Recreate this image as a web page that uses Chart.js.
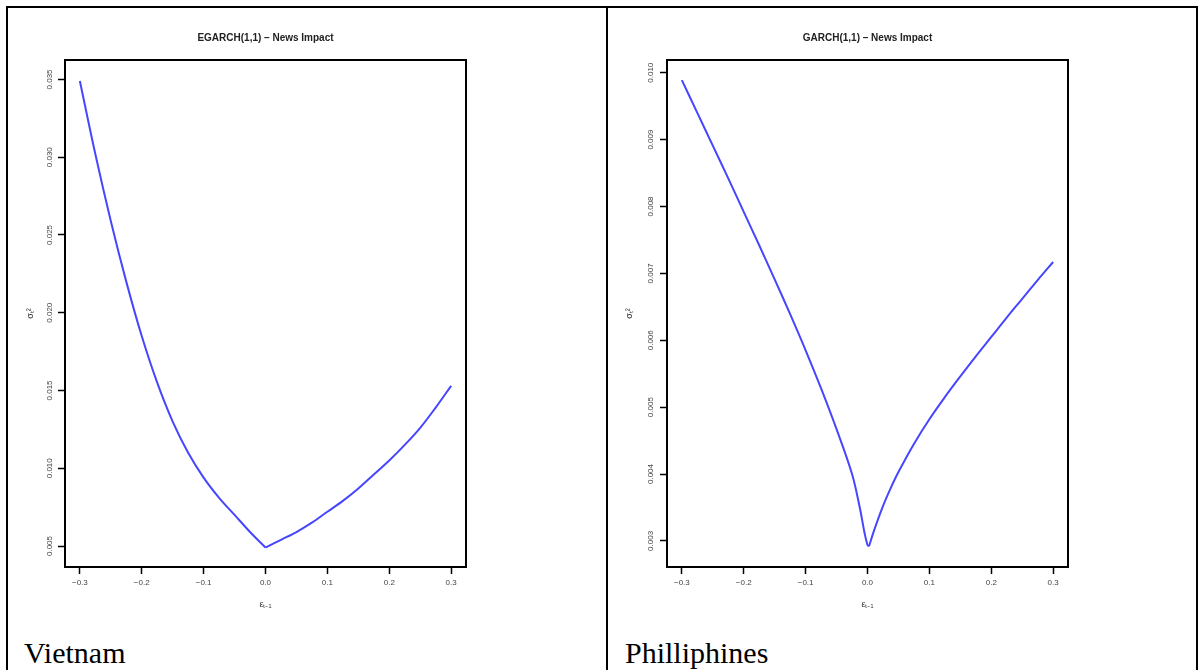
<!DOCTYPE html>
<html><head><meta charset="utf-8">
<script src="https://cdn.jsdelivr.net/npm/chart.js@4.4.1/dist/chart.umd.min.js"></script>
<style>
html,body{margin:0;padding:0;background:#fff;width:1203px;height:670px;overflow:hidden;position:relative;font-family:"Liberation Serif","Times New Roman",serif;}
.frame{position:absolute;background:#000;}
.cap{position:absolute;font-size:30px;line-height:30px;color:#000;white-space:nowrap;}
canvas{position:absolute;}
</style></head><body>
<div class="frame" style="left:6px;top:6px;width:1192px;height:2px"></div>
<div class="frame" style="left:6px;top:6px;width:2px;height:664px"></div>
<div class="frame" style="left:606px;top:6px;width:2px;height:664px"></div>
<div class="frame" style="left:1196px;top:6px;width:2px;height:664px"></div>
<div class="cap" style="left:24px;top:638px">Vietnam</div>
<div class="cap" style="left:625px;top:638px">Philliphines</div>
<canvas id="vn" width="600" height="625" style="left:0;top:0"></canvas>
<canvas id="ph" width="603" height="625" style="left:600px;top:0"></canvas>
<script>
// ---- data ----
const xTicks = [-0.3, -0.2, -0.1, 0.0, 0.1, 0.2, 0.3];

const titleVN = "EGARCH(1,1) \u2013 News Impact";
const xsVN = [-0.3,-0.275,-0.25,-0.225,-0.2,-0.175,-0.15,-0.125,-0.1,-0.075,-0.05,-0.025,0,
              0.025,0.05,0.075,0.1,0.125,0.15,0.175,0.2,0.225,0.25,0.275,0.3];
const ysVN = [0.0349,0.0302,0.0259,0.0220,0.0185,0.0155,0.0130,0.0110,0.0094,0.0081,0.0070,0.0059,0.0049,
              0.0054,0.0059,0.0065,0.0072,0.0079,0.0087,0.0096,0.0105,0.0115,0.0126,0.0139,0.0153];
const yTicksVN = [0.005,0.010,0.015,0.020,0.025,0.030,0.035];

const titlePH = "GARCH(1,1) \u2013 News Impact";
const xsPH = [-0.3,-0.275,-0.25,-0.225,-0.2,-0.175,-0.15,-0.125,-0.1,-0.075,-0.05,-0.025,-0.0125,-0.005,0,0.0025,
              0.01,0.025,0.0375,0.05,0.075,0.1,0.125,0.15,0.175,0.2,0.225,0.25,0.275,0.3];
const ysPH = [0.00989,0.00940,0.00891,0.00842,0.00792,0.00742,0.00691,0.00639,0.00585,0.00528,0.00467,0.00400,0.00350,0.00313,0.00294,0.00292,
              0.00314,0.00352,0.00379,0.00403,0.00445,0.00482,0.00515,0.00546,0.00576,0.00605,0.00634,0.00662,0.00690,0.00717];
const yTicksPH = [0.003,0.004,0.005,0.006,0.007,0.008,0.009,0.010];

const xLabel = "\u03B5\u209C\u208B\u2081";
const yLabel = "\u03C3\u209C\u00B2";

Chart.defaults.font.family = "'Liberation Sans', Arial, sans-serif";

const boxPlugin = {
  id: 'box',
  afterDraw(chart) {
    const a = chart.chartArea, c = chart.ctx;
    c.save(); c.strokeStyle = '#000'; c.lineWidth = 2;
    c.strokeRect(a.left, a.top, a.right - a.left, a.bottom - a.top);
    c.restore();
  }
};

function fmtMinus(v, d) {
  const s = Math.abs(v) < 1e-12 ? (0).toFixed(d) : v.toFixed(d);
  return s.replace('-', '\u2212');
}

// split the curve at its minimum so the cusp stays sharp
function branches(xs, ys) {
  let m = 0;
  ys.forEach((v, i) => { if (v < ys[m]) m = i; });
  const pts = xs.map((x, i) => ({x: x, y: ys[i]}));
  return [pts.slice(0, m + 1), pts.slice(m)];
}

function makeChart(id, title, xs, ys, yTicks, yMin, yMax, leftW, rightPad, yLabPad, yTitlePad) {
  const style = { borderColor: '#4646ff', borderWidth: 2, pointRadius: 0,
                  tension: 0.35, fill: false };
  new Chart(document.getElementById(id), {
    type: 'line',
    data: { datasets: branches(xs, ys).map(d => Object.assign({ data: d }, style)) },
    options: {
      responsive: false, animation: false, devicePixelRatio: 1,
      layout: { padding: { left: 0, right: rightPad, top: 0, bottom: 0 } },
      plugins: {
        legend: { display: false }, tooltip: { enabled: false },
        title: { display: true, text: title, fullSize: false, color: '#222',
                 font: { size: 10, weight: 'bold' }, padding: { top: 32, bottom: 16 } }
      },
      scales: {
        x: {
          type: 'linear', min: -0.324, max: 0.324,
          afterBuildTicks: s => { s.ticks = xTicks.map(v => ({value: v})); },
          afterFit: s => { s.height = 58; },
          ticks: { callback: v => fmtMinus(v, 1), font: { size: 8 }, color: '#444',
                   padding: 4, maxRotation: 0, minRotation: 0, autoSkip: false },
          grid: { drawOnChartArea: false, drawTicks: true, tickLength: 7, tickColor: '#000', tickWidth: 1.5 },
          border: { display: false },
          title: { display: true, text: xLabel, color: '#333', font: { size: 9 }, padding: { top: 0, bottom: 14.6 } }
        },
        y: {
          type: 'linear', min: yMin, max: yMax,
          afterBuildTicks: s => { s.ticks = yTicks.map(v => ({value: v})); },
          afterFit: s => { s.width = leftW; },
          ticks: { callback: v => v.toFixed(3), font: { size: 8 }, color: '#444',
                   padding: yLabPad, minRotation: 90, maxRotation: 90, crossAlign: 'center', autoSkip: false },
          grid: { drawOnChartArea: false, drawTicks: true, tickLength: 7, tickColor: '#000', tickWidth: 1.5 },
          border: { display: false },
          title: { display: true, text: yLabel, color: '#333', font: { size: 9 }, padding: { top: yTitlePad, bottom: 0 } }
        }
      }
    },
    plugins: [boxPlugin]
  });
}

makeChart('vn', titleVN, xsVN, ysVN, yTicksVN, 0.00365, 0.03625, 65, 134, -2, 25.6);
makeChart('ph', titlePH, xsPH, ysPH, yTicksPH, 0.00261, 0.01019, 67, 135, -1, 24.6);
</script>
</body></html>
